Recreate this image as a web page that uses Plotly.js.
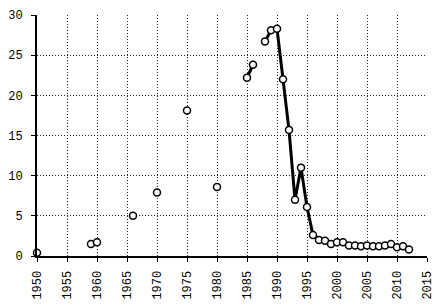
<!DOCTYPE html>
<html>
<head>
<meta charset="utf-8">
<script src="https://cdn.plot.ly/plotly-3.0.1.min.js"></script>
<style>html,body{margin:0;padding:0;background:#fff;}#chart{width:439px;height:305px;}</style>
</head>
<body>
<div id="chart"></div>
<script>
// Data
const years = [1950, 1959, 1960, 1966, 1970, 1975, 1980, 1985, 1986, 1988, 1989, 1990, 1991, 1992, 1993, 1994, 1995, 1996, 1997, 1998, 1999, 2000, 2001, 2002, 2003, 2004, 2005, 2006, 2007, 2008, 2009, 2010, 2011, 2012];
const values = [0.4, 1.5, 1.7, 5.0, 7.9, 18.1, 8.6, 22.2, 23.8, 26.7, 28.1, 28.3, 22.0, 15.7, 7.0, 11.0, 6.1, 2.6, 2.0, 1.9, 1.5, 1.7, 1.7, 1.3, 1.3, 1.2, 1.3, 1.2, 1.2, 1.3, 1.5, 1.1, 1.2, 0.8];
const lineStartYear = 1985;
const xTicks = [1950, 1955, 1960, 1965, 1970, 1975, 1980, 1985, 1990, 1995, 2000, 2005, 2010, 2015];
const yTicks = [0, 5, 10, 15, 20, 25, 30];

// Consecutive-year segments joined by a line, gaps broken
const lx = [], ly = [];
for (let i = 0; i < years.length; i++) {
  if (years[i] < lineStartYear) continue;
  if (lx.length && years[i] - lx[lx.length - 1] > 1) { lx.push(years[i] - 0.5); ly.push(null); }
  lx.push(years[i]); ly.push(values[i]);
}

const font = {family: 'Liberation Mono, DejaVu Sans Mono, monospace', size: 12, color: '#000'};
const traces = [
  {x: lx, y: ly, type: 'scatter', mode: 'lines', connectgaps: false,
   line: {color: '#000', width: 3}, hoverinfo: 'skip'},
  {x: years, y: values, type: 'scatter', mode: 'markers', cliponaxis: false,
   marker: {symbol: 'circle', size: 7, color: '#fff', line: {color: '#000', width: 1.5}}}
];
const layout = {
  width: 439, height: 305,
  margin: {l: 37, r: 12, t: 15, b: 49},
  paper_bgcolor: '#fff', plot_bgcolor: '#fff',
  showlegend: false,
  font: font,
  xaxis: {
    range: [1950, 2015], tickvals: xTicks, ticktext: xTicks.map(String),
    tickangle: -90, ticks: 'outside', ticklen: 4, tickcolor: '#000', tickwidth: 1,
    showgrid: true, gridcolor: '#222', griddash: '1px,2px', gridwidth: 1,
    showline: true, linecolor: '#000', linewidth: 2, zeroline: false,
    tickfont: font, ticklabelstandoff: 4
  },
  yaxis: {
    range: [0, 30], tickvals: yTicks, ticktext: yTicks.map(String),
    ticks: 'outside', ticklen: 4, tickcolor: '#000', tickwidth: 1,
    showgrid: true, gridcolor: '#222', griddash: '1px,2px', gridwidth: 1,
    showline: true, linecolor: '#000', linewidth: 2, zeroline: false,
    tickfont: font, ticklabelstandoff: 6
  }
};
Plotly.newPlot('chart', traces, layout, {displayModeBar: false, staticPlot: true});
</script>
</body>
</html>
